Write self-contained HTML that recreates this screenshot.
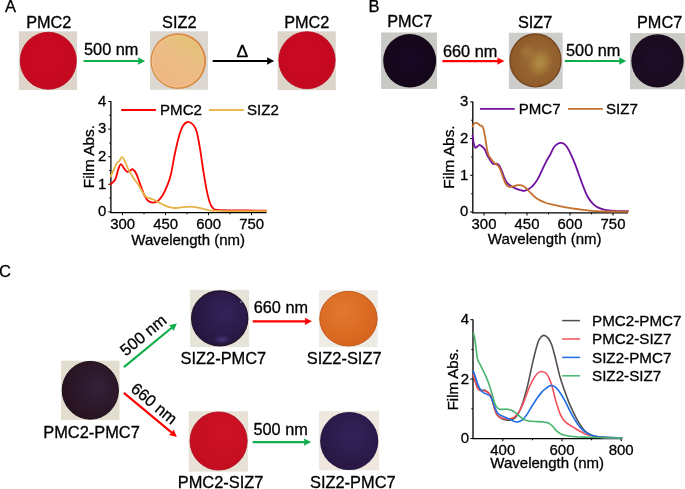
<!DOCTYPE html>
<html><head><meta charset="utf-8"><style>
html,body{margin:0;padding:0;background:#fff;}
body{width:685px;height:489px;overflow:hidden;}
svg{display:block;will-change:transform;}
text{font-family:"Liberation Sans",sans-serif;fill:#000;stroke:#000;stroke-width:0.3px;}
</style></head><body>
<svg width="685" height="489" viewBox="0 0 685 489">
<text x="5.00" y="11.70" font-size="16.50" text-anchor="start" >A</text>
<text x="48.80" y="27.60" font-size="16.30" text-anchor="middle" >PMC2</text>
<rect x="18.90" y="31.30" width="58.10" height="58.60" fill="#ddd5c9"/>
<defs><radialGradient id="pg1" cx="0.45" cy="0.45" r="0.6">
<stop offset="0" stop-color="#cc0a23"/><stop offset="1" stop-color="#c3081f"/></radialGradient></defs>
<ellipse cx="48.30" cy="60.75" rx="28.10" ry="28.50" fill="url(#pg1)" stroke="#b8061c" stroke-width="0.80"/>
<text x="111.20" y="55.20" font-size="16.30" text-anchor="middle" >500 nm</text>
<line x1="83.60" y1="61.00" x2="138.90" y2="61.00" stroke="#0fae4c" stroke-width="2.20"/>
<polygon points="145.20,61.00 137.90,57.35 138.50,61.00 137.90,64.65" fill="#0fae4c"/>
<text x="179.30" y="27.80" font-size="16.30" text-anchor="middle" >SIZ2</text>
<rect x="150.00" y="31.30" width="58.00" height="58.50" fill="#dcd8d1"/>
<ellipse cx="178.25" cy="61.10" rx="27.80" ry="27.90" fill="#d98a44"/>
<defs><linearGradient id="siz2g" x1="0.2" y1="0.9" x2="0.75" y2="0.05"><stop offset="0" stop-color="#eeb683"/><stop offset="0.55" stop-color="#ecbc86"/><stop offset="1" stop-color="#e2c276"/></linearGradient></defs>
<ellipse cx="177.9" cy="61.2" rx="26.2" ry="26.3" fill="#f2c894"/>
<ellipse cx="177.9" cy="61.3" rx="25.4" ry="25.5" fill="url(#siz2g)"/>
<text x="242.30" y="56.90" font-size="17.40" text-anchor="middle" >&#916;</text>
<line x1="212.70" y1="61.00" x2="267.90" y2="61.00" stroke="#000000" stroke-width="2.20"/>
<polygon points="274.20,61.00 266.90,57.35 267.50,61.00 266.90,64.65" fill="#000000"/>
<text x="306.80" y="27.80" font-size="16.30" text-anchor="middle" >PMC2</text>
<rect x="277.70" y="31.30" width="58.10" height="58.80" fill="#ddd5c9"/>
<defs><radialGradient id="pg3" cx="0.45" cy="0.45" r="0.6">
<stop offset="0" stop-color="#cc0a23"/><stop offset="1" stop-color="#c3081f"/></radialGradient></defs>
<ellipse cx="307.00" cy="60.20" rx="28.20" ry="28.50" fill="url(#pg3)" stroke="#b8061c" stroke-width="0.80"/>
<text x="368.60" y="11.70" font-size="16.50" text-anchor="start" >B</text>
<text x="409.80" y="27.30" font-size="16.30" text-anchor="middle" >PMC7</text>
<rect x="381.10" y="32.50" width="55.90" height="56.40" fill="#c8c8c4"/>
<defs><radialGradient id="pg4" cx="0.50" cy="0.50" r="0.6">
<stop offset="0" stop-color="#180826"/><stop offset="1" stop-color="#140616"/></radialGradient></defs>
<ellipse cx="409.70" cy="60.75" rx="26.50" ry="26.85" fill="url(#pg4)"/>
<text x="470.10" y="56.50" font-size="16.30" text-anchor="middle" >660 nm</text>
<line x1="442.40" y1="61.10" x2="498.20" y2="61.10" stroke="#ff0000" stroke-width="2.20"/>
<polygon points="504.50,61.10 497.20,57.45 497.80,61.10 497.20,64.75" fill="#ff0000"/>
<text x="535.10" y="27.80" font-size="16.30" text-anchor="middle" >SIZ7</text>
<rect x="508.90" y="32.70" width="53.80" height="56.30" fill="#cdcdcb"/>
<defs><radialGradient id="pg5" cx="0.55" cy="0.50" r="0.6">
<stop offset="0" stop-color="#9e6e36"/><stop offset="1" stop-color="#8c5828"/></radialGradient></defs>
<ellipse cx="535.50" cy="60.40" rx="25.50" ry="26.40" fill="url(#pg5)" stroke="#76461f" stroke-width="1.30"/>
<defs><radialGradient id="siz7h" cx="0.5" cy="0.5" r="0.5"><stop offset="0" stop-color="#b49448" stop-opacity="0.85"/><stop offset="1" stop-color="#b49448" stop-opacity="0"/></radialGradient></defs>
<ellipse cx="540" cy="63" rx="12" ry="15" fill="url(#siz7h)" transform="rotate(25 540 63)"/>
<ellipse cx="527" cy="52" rx="9" ry="9" fill="url(#siz7h)" opacity="0.5"/>
<text x="593.20" y="55.90" font-size="16.30" text-anchor="middle" >500 nm</text>
<line x1="564.80" y1="61.00" x2="620.00" y2="61.00" stroke="#0fae4c" stroke-width="2.20"/>
<polygon points="626.30,61.00 619.00,57.35 619.60,61.00 619.00,64.65" fill="#0fae4c"/>
<text x="659.60" y="27.80" font-size="16.30" text-anchor="middle" >PMC7</text>
<rect x="630.00" y="33.10" width="55.00" height="56.20" fill="#cbcbc6"/>
<defs><radialGradient id="pg6" cx="0.50" cy="0.50" r="0.6">
<stop offset="0" stop-color="#1e0e2a"/><stop offset="1" stop-color="#1a0a1c"/></radialGradient></defs>
<ellipse cx="657.50" cy="60.95" rx="26.20" ry="26.65" fill="url(#pg6)"/>
<path d="M110.90,101.20 L110.90,212.60 L266.60,212.60" fill="none" stroke="#000" stroke-width="1.30"/>
<line x1="122.50" y1="212.60" x2="122.50" y2="215.20" stroke="#000" stroke-width="1.04"/>
<line x1="165.50" y1="212.60" x2="165.50" y2="215.20" stroke="#000" stroke-width="1.04"/>
<line x1="208.50" y1="212.60" x2="208.50" y2="215.20" stroke="#000" stroke-width="1.04"/>
<line x1="251.50" y1="212.60" x2="251.50" y2="215.20" stroke="#000" stroke-width="1.04"/>
<line x1="144.00" y1="212.60" x2="144.00" y2="214.20" stroke="#000" stroke-width="1.04"/>
<line x1="187.00" y1="212.60" x2="187.00" y2="214.20" stroke="#000" stroke-width="1.04"/>
<line x1="230.00" y1="212.60" x2="230.00" y2="214.20" stroke="#000" stroke-width="1.04"/>
<line x1="110.90" y1="211.90" x2="108.30" y2="211.90" stroke="#000" stroke-width="1.04"/>
<line x1="110.90" y1="184.30" x2="108.30" y2="184.30" stroke="#000" stroke-width="1.04"/>
<line x1="110.90" y1="156.70" x2="108.30" y2="156.70" stroke="#000" stroke-width="1.04"/>
<line x1="110.90" y1="129.10" x2="108.30" y2="129.10" stroke="#000" stroke-width="1.04"/>
<line x1="110.90" y1="101.50" x2="108.30" y2="101.50" stroke="#000" stroke-width="1.04"/>
<line x1="110.90" y1="198.10" x2="109.30" y2="198.10" stroke="#000" stroke-width="1.04"/>
<line x1="110.90" y1="170.50" x2="109.30" y2="170.50" stroke="#000" stroke-width="1.04"/>
<line x1="110.90" y1="142.90" x2="109.30" y2="142.90" stroke="#000" stroke-width="1.04"/>
<line x1="110.90" y1="115.30" x2="109.30" y2="115.30" stroke="#000" stroke-width="1.04"/>
<text x="106.40" y="216.20" font-size="14.90" text-anchor="end" >0</text>
<text x="106.40" y="188.60" font-size="14.90" text-anchor="end" >1</text>
<text x="106.40" y="161.00" font-size="14.90" text-anchor="end" >2</text>
<text x="106.40" y="133.40" font-size="14.90" text-anchor="end" >3</text>
<text x="106.40" y="105.80" font-size="14.90" text-anchor="end" >4</text>
<text x="122.70" y="229.20" font-size="14.90" text-anchor="middle" >300</text>
<text x="165.70" y="229.20" font-size="14.90" text-anchor="middle" >450</text>
<text x="208.70" y="229.20" font-size="14.90" text-anchor="middle" >600</text>
<text x="251.70" y="229.20" font-size="14.90" text-anchor="middle" >750</text>
<text x="188.20" y="244.60" font-size="15.00" text-anchor="middle" >Wavelength (nm)</text>
<text x="94.20" y="156.60" font-size="15.40" text-anchor="middle" transform="rotate(-90 94.2 156.6)">Film Abs.</text>
<line x1="121.2" y1="110" x2="155.9" y2="110" stroke="#ff0000" stroke-width="1.9"/>
<text x="160.00" y="115.10" font-size="15.10" text-anchor="start" >PMC2</text>
<line x1="208.9" y1="110" x2="243.8" y2="110" stroke="#e8b84c" stroke-width="1.9"/>
<text x="247.00" y="115.10" font-size="15.10" text-anchor="start" >SIZ2</text>
<path d="M110.60,184.20 C111.00,183.87 112.15,183.18 113.00,182.20 C113.85,181.22 114.78,180.57 115.70,178.30 C116.62,176.03 117.62,170.95 118.50,168.60 C119.38,166.25 120.07,164.23 121.00,164.20 C121.93,164.17 123.07,167.13 124.10,168.40 C125.13,169.67 126.18,171.47 127.20,171.80 C128.22,172.13 129.27,170.80 130.20,170.40 C131.13,170.00 131.77,168.80 132.80,169.40 C133.83,170.00 135.17,171.50 136.40,174.00 C137.63,176.50 138.80,180.70 140.20,184.40 C141.60,188.10 143.40,193.38 144.80,196.20 C146.20,199.02 147.20,200.23 148.60,201.30 C150.00,202.37 151.67,202.65 153.20,202.60 C154.73,202.55 156.20,202.27 157.80,201.00 C159.40,199.73 161.13,197.80 162.80,195.00 C164.47,192.20 166.43,187.70 167.80,184.20 C169.17,180.70 169.82,179.12 171.00,174.00 C172.18,168.88 173.55,159.85 174.90,153.50 C176.25,147.15 177.72,140.57 179.10,135.90 C180.48,131.23 181.68,127.85 183.20,125.50 C184.72,123.15 186.50,121.88 188.20,121.80 C189.90,121.72 191.97,123.30 193.40,125.00 C194.83,126.70 195.70,128.07 196.80,132.00 C197.90,135.93 198.93,142.27 200.00,148.60 C201.07,154.93 202.12,163.20 203.20,170.00 C204.28,176.80 205.42,184.03 206.50,189.40 C207.58,194.77 208.63,199.07 209.70,202.20 C210.77,205.33 211.65,206.92 212.90,208.20 C214.15,209.48 213.52,209.53 217.20,209.90 C220.88,210.27 226.87,210.28 235.00,210.40 C243.13,210.52 260.83,210.57 266.00,210.60" fill="none" stroke="#ff0000" stroke-width="1.80" stroke-linejoin="round" stroke-linecap="round"/>
<path d="M110.60,176.50 C111.18,175.27 113.05,171.35 114.10,169.10 C115.15,166.85 116.08,164.27 116.90,163.00 C117.72,161.73 118.13,162.53 119.00,161.50 C119.87,160.47 121.12,156.80 122.10,156.80 C123.08,156.80 123.93,159.57 124.90,161.50 C125.87,163.43 126.88,166.33 127.90,168.40 C128.92,170.47 129.97,172.12 131.00,173.90 C132.03,175.68 132.95,177.43 134.10,179.10 C135.25,180.77 136.63,181.98 137.90,183.90 C139.17,185.82 140.43,188.52 141.70,190.60 C142.97,192.68 144.22,195.13 145.50,196.40 C146.78,197.67 147.98,197.63 149.40,198.20 C150.82,198.77 152.35,199.07 154.00,199.80 C155.65,200.53 157.52,201.67 159.30,202.60 C161.08,203.53 163.03,204.63 164.70,205.40 C166.37,206.17 167.77,206.77 169.30,207.20 C170.83,207.63 172.12,207.93 173.90,208.00 C175.68,208.07 177.25,207.83 180.00,207.60 C182.75,207.37 187.42,206.60 190.40,206.60 C193.38,206.60 195.22,207.10 197.90,207.60 C200.58,208.10 203.28,209.07 206.50,209.60 C209.72,210.13 207.28,210.53 217.20,210.80 C227.12,211.07 257.87,211.13 266.00,211.20" fill="none" stroke="#e6b446" stroke-width="1.80" stroke-linejoin="round" stroke-linecap="round"/>
<path d="M472.80,101.40 L472.80,212.80 L628.00,212.80" fill="none" stroke="#000" stroke-width="1.30"/>
<line x1="484.00" y1="212.80" x2="484.00" y2="215.40" stroke="#000" stroke-width="1.04"/>
<line x1="527.00" y1="212.80" x2="527.00" y2="215.40" stroke="#000" stroke-width="1.04"/>
<line x1="570.00" y1="212.80" x2="570.00" y2="215.40" stroke="#000" stroke-width="1.04"/>
<line x1="613.00" y1="212.80" x2="613.00" y2="215.40" stroke="#000" stroke-width="1.04"/>
<line x1="505.50" y1="212.80" x2="505.50" y2="214.40" stroke="#000" stroke-width="1.04"/>
<line x1="548.50" y1="212.80" x2="548.50" y2="214.40" stroke="#000" stroke-width="1.04"/>
<line x1="591.50" y1="212.80" x2="591.50" y2="214.40" stroke="#000" stroke-width="1.04"/>
<line x1="472.80" y1="212.00" x2="470.20" y2="212.00" stroke="#000" stroke-width="1.04"/>
<line x1="472.80" y1="175.30" x2="470.20" y2="175.30" stroke="#000" stroke-width="1.04"/>
<line x1="472.80" y1="138.60" x2="470.20" y2="138.60" stroke="#000" stroke-width="1.04"/>
<line x1="472.80" y1="101.90" x2="470.20" y2="101.90" stroke="#000" stroke-width="1.04"/>
<line x1="472.80" y1="193.65" x2="471.20" y2="193.65" stroke="#000" stroke-width="1.04"/>
<line x1="472.80" y1="156.95" x2="471.20" y2="156.95" stroke="#000" stroke-width="1.04"/>
<line x1="472.80" y1="120.25" x2="471.20" y2="120.25" stroke="#000" stroke-width="1.04"/>
<text x="468.20" y="216.30" font-size="14.90" text-anchor="end" >0</text>
<text x="468.20" y="179.60" font-size="14.90" text-anchor="end" >1</text>
<text x="468.20" y="142.90" font-size="14.90" text-anchor="end" >2</text>
<text x="468.20" y="106.20" font-size="14.90" text-anchor="end" >3</text>
<text x="484.00" y="229.30" font-size="14.90" text-anchor="middle" >300</text>
<text x="527.00" y="229.30" font-size="14.90" text-anchor="middle" >450</text>
<text x="570.00" y="229.30" font-size="14.90" text-anchor="middle" >600</text>
<text x="613.00" y="229.30" font-size="14.90" text-anchor="middle" >750</text>
<text x="544.70" y="244.40" font-size="15.00" text-anchor="middle" >Wavelength (nm)</text>
<text x="454.00" y="157.00" font-size="15.40" text-anchor="middle" transform="rotate(-90 454.0 157.0)">Film Abs.</text>
<line x1="479.9" y1="108.9" x2="514.7" y2="108.9" stroke="#7010a0" stroke-width="1.9"/>
<text x="518.70" y="114.20" font-size="15.10" text-anchor="start" >PMC7</text>
<line x1="568" y1="108.9" x2="602.8" y2="108.9" stroke="#c4702e" stroke-width="1.9"/>
<text x="606.00" y="114.20" font-size="15.10" text-anchor="start" >SIZ7</text>
<path d="M472.60,135.40 C472.77,136.63 473.17,140.78 473.60,142.80 C474.03,144.82 474.65,146.82 475.20,147.50 C475.75,148.18 476.18,147.33 476.90,146.90 C477.62,146.47 478.60,144.93 479.50,144.90 C480.40,144.87 481.43,145.97 482.30,146.70 C483.17,147.43 483.88,147.90 484.70,149.30 C485.52,150.70 486.38,153.45 487.20,155.10 C488.02,156.75 488.78,157.87 489.60,159.20 C490.42,160.53 491.28,162.28 492.10,163.10 C492.92,163.92 493.68,163.98 494.50,164.10 C495.32,164.22 496.18,163.53 497.00,163.80 C497.82,164.07 498.58,164.47 499.40,165.70 C500.22,166.93 501.08,169.22 501.90,171.20 C502.72,173.18 503.48,175.70 504.30,177.60 C505.12,179.50 505.70,181.18 506.80,182.60 C507.90,184.02 509.40,185.10 510.90,186.10 C512.40,187.10 514.20,187.93 515.80,188.60 C517.40,189.27 519.05,189.73 520.50,190.10 C521.95,190.47 523.13,190.97 524.50,190.80 C525.87,190.63 527.28,189.95 528.70,189.10 C530.12,188.25 531.48,187.40 533.00,185.70 C534.52,184.00 536.25,181.58 537.80,178.90 C539.35,176.22 540.82,172.65 542.30,169.60 C543.78,166.55 545.35,163.17 546.70,160.60 C548.05,158.03 549.17,156.47 550.40,154.20 C551.63,151.93 552.80,148.80 554.10,147.00 C555.40,145.20 557.02,144.10 558.20,143.40 C559.38,142.70 560.25,142.75 561.20,142.80 C562.15,142.85 563.03,143.13 563.90,143.70 C564.77,144.27 565.45,144.88 566.40,146.20 C567.35,147.52 568.20,148.73 569.60,151.60 C571.00,154.47 573.22,159.47 574.80,163.40 C576.38,167.33 577.65,171.23 579.10,175.20 C580.55,179.17 582.05,183.57 583.50,187.20 C584.95,190.83 586.22,194.22 587.80,197.00 C589.38,199.78 591.25,202.13 593.00,203.90 C594.75,205.67 596.30,206.62 598.30,207.60 C600.30,208.58 602.22,209.27 605.00,209.80 C607.78,210.33 611.17,210.57 615.00,210.80 C618.83,211.03 625.83,211.13 628.00,211.20" fill="none" stroke="#7010a0" stroke-width="1.80" stroke-linejoin="round" stroke-linecap="round"/>
<path d="M472.60,126.40 C472.85,125.93 473.50,124.18 474.10,123.60 C474.70,123.02 475.47,122.83 476.20,122.90 C476.93,122.97 477.85,123.57 478.50,124.00 C479.15,124.43 479.47,125.12 480.10,125.50 C480.73,125.88 481.67,125.47 482.30,126.30 C482.93,127.13 483.37,128.30 483.90,130.50 C484.43,132.70 484.95,136.22 485.50,139.50 C486.05,142.78 486.65,147.50 487.20,150.20 C487.75,152.90 488.12,154.20 488.80,155.70 C489.48,157.20 490.48,158.08 491.30,159.20 C492.12,160.32 492.88,161.55 493.70,162.40 C494.52,163.25 495.38,163.60 496.20,164.30 C497.02,165.00 497.78,165.42 498.60,166.60 C499.42,167.78 500.28,169.40 501.10,171.40 C501.92,173.40 502.68,176.45 503.50,178.60 C504.32,180.75 505.03,182.92 506.00,184.30 C506.97,185.68 508.08,186.55 509.30,186.90 C510.52,187.25 511.95,186.68 513.30,186.40 C514.65,186.12 516.20,185.40 517.40,185.20 C518.60,185.00 519.40,184.97 520.50,185.20 C521.60,185.43 522.88,185.93 524.00,186.60 C525.12,187.27 526.13,188.20 527.20,189.20 C528.27,190.20 529.13,191.30 530.40,192.60 C531.67,193.90 533.35,195.78 534.80,197.00 C536.25,198.22 537.22,198.90 539.10,199.90 C540.98,200.90 543.48,202.13 546.10,203.00 C548.72,203.87 551.90,204.45 554.80,205.10 C557.70,205.75 560.60,206.37 563.50,206.90 C566.40,207.43 569.30,207.83 572.20,208.30 C575.10,208.77 578.00,209.30 580.90,209.70 C583.80,210.10 586.42,210.43 589.60,210.70 C592.78,210.97 593.60,211.15 600.00,211.30 C606.40,211.45 623.33,211.55 628.00,211.60" fill="none" stroke="#c4702e" stroke-width="1.80" stroke-linejoin="round" stroke-linecap="round"/>
<text x="-0.90" y="276.60" font-size="16.50" text-anchor="start" >C</text>
<rect x="61.00" y="360.70" width="58.50" height="59.20" fill="#e2decf"/>
<defs><radialGradient id="pg7" cx="0.62" cy="0.45" r="0.6">
<stop offset="0" stop-color="#34203a"/><stop offset="1" stop-color="#27131f"/></radialGradient></defs>
<ellipse cx="90.30" cy="390.30" rx="28.10" ry="28.90" fill="url(#pg7)" stroke="#1e0e18" stroke-width="1.00"/>
<text x="91.50" y="437.90" font-size="16.40" text-anchor="middle" >PMC2-PMC7</text>
<g transform="translate(123.90,367.10) rotate(-39.442)">
<line x1="0" y1="0" x2="62.33" y2="0" stroke="#0fae4c" stroke-width="2.20"/>
<polygon points="68.63,0 61.33,-3.65 61.93,0 61.33,3.65" fill="#0fae4c"/>
</g>
<g transform="translate(123.90,392.90) rotate(39.699)">
<line x1="0" y1="0" x2="62.58" y2="0" stroke="#ff0000" stroke-width="2.20"/>
<polygon points="68.88,0 61.58,-3.65 62.18,0 61.58,3.65" fill="#ff0000"/>
</g>
<text x="0.00" y="0.00" font-size="16.30" text-anchor="middle" transform="translate(146.8,339.4) rotate(-39.5)">500 nm</text>
<text x="0.00" y="0.00" font-size="16.30" text-anchor="middle" transform="translate(150.6,407.8) rotate(39.5)">660 nm</text>
<rect x="190.00" y="289.80" width="59.10" height="57.30" fill="#e6e3d8"/>
<defs><radialGradient id="pg8" cx="0.60" cy="0.40" r="0.6">
<stop offset="0" stop-color="#33225a"/><stop offset="1" stop-color="#261640"/></radialGradient></defs>
<ellipse cx="219.70" cy="318.40" rx="28.00" ry="27.40" fill="url(#pg8)" stroke="#24142c" stroke-width="1.40"/>
<defs><radialGradient id="hlp" cx="0.5" cy="0.5" r="0.5"><stop offset="0" stop-color="#52428a" stop-opacity="0.7"/><stop offset="1" stop-color="#52428a" stop-opacity="0"/></radialGradient></defs>
<ellipse cx="222" cy="339.5" rx="9" ry="4.5" fill="url(#hlp)"/>
<circle cx="241" cy="302" r="0.8" fill="#d8d0e0" opacity="0.8"/>
<text x="223.40" y="363.80" font-size="16.40" text-anchor="middle" >SIZ2-PMC7</text>
<text x="280.90" y="312.70" font-size="16.30" text-anchor="middle" >660 nm</text>
<line x1="252.70" y1="321.30" x2="305.70" y2="321.30" stroke="#ff0000" stroke-width="2.20"/>
<polygon points="312.00,321.30 304.70,317.65 305.30,321.30 304.70,324.95" fill="#ff0000"/>
<rect x="319.10" y="290.10" width="58.60" height="57.00" fill="#eeebe5"/>
<defs><radialGradient id="pg9" cx="0.40" cy="0.35" r="0.6">
<stop offset="0" stop-color="#e27830"/><stop offset="1" stop-color="#d8661e"/></radialGradient></defs>
<ellipse cx="348.45" cy="318.70" rx="28.70" ry="27.30" fill="url(#pg9)" stroke="#c2561a" stroke-width="1.00"/>
<text x="344.20" y="364.00" font-size="16.40" text-anchor="middle" >SIZ2-SIZ7</text>
<rect x="188.70" y="411.20" width="59.40" height="60.50" fill="#e8e2d6"/>
<defs><radialGradient id="pg10" cx="0.60" cy="0.35" r="0.6">
<stop offset="0" stop-color="#cf1226"/><stop offset="1" stop-color="#c40e20"/></radialGradient></defs>
<ellipse cx="218.60" cy="441.00" rx="28.60" ry="29.10" fill="url(#pg10)" stroke="#b00a1c" stroke-width="0.80"/>
<text x="220.60" y="488.20" font-size="16.40" text-anchor="middle" >PMC2-SIZ7</text>
<text x="280.60" y="435.00" font-size="16.30" text-anchor="middle" >500 nm</text>
<line x1="252.70" y1="442.10" x2="304.90" y2="442.10" stroke="#0fae4c" stroke-width="2.20"/>
<polygon points="311.20,442.10 303.90,438.45 304.50,442.10 303.90,445.75" fill="#0fae4c"/>
<rect x="319.00" y="411.10" width="60.10" height="59.20" fill="#eee8de"/>
<defs><radialGradient id="pg11" cx="0.55" cy="0.40" r="0.6">
<stop offset="0" stop-color="#33225a"/><stop offset="1" stop-color="#281844"/></radialGradient></defs>
<ellipse cx="349.20" cy="441.00" rx="29.10" ry="29.10" fill="url(#pg11)"/>
<text x="352.80" y="487.60" font-size="16.40" text-anchor="middle" >SIZ2-PMC7</text>
<path d="M473.00,319.40 L473.00,438.70 L621.80,438.70" fill="none" stroke="#000" stroke-width="1.30"/>
<line x1="502.80" y1="438.70" x2="502.80" y2="441.30" stroke="#000" stroke-width="1.04"/>
<line x1="562.00" y1="438.70" x2="562.00" y2="441.30" stroke="#000" stroke-width="1.04"/>
<line x1="621.20" y1="438.70" x2="621.20" y2="441.30" stroke="#000" stroke-width="1.04"/>
<line x1="532.40" y1="438.70" x2="532.40" y2="440.30" stroke="#000" stroke-width="1.04"/>
<line x1="591.60" y1="438.70" x2="591.60" y2="440.30" stroke="#000" stroke-width="1.04"/>
<line x1="473.00" y1="438.50" x2="470.40" y2="438.50" stroke="#000" stroke-width="1.04"/>
<line x1="473.00" y1="379.10" x2="470.40" y2="379.10" stroke="#000" stroke-width="1.04"/>
<line x1="473.00" y1="319.70" x2="470.40" y2="319.70" stroke="#000" stroke-width="1.04"/>
<line x1="473.00" y1="408.80" x2="471.40" y2="408.80" stroke="#000" stroke-width="1.04"/>
<line x1="473.00" y1="349.40" x2="471.40" y2="349.40" stroke="#000" stroke-width="1.04"/>
<text x="469.00" y="442.90" font-size="15.00" text-anchor="end" >0</text>
<text x="469.00" y="383.50" font-size="15.00" text-anchor="end" >2</text>
<text x="469.00" y="324.10" font-size="15.00" text-anchor="end" >4</text>
<text x="502.80" y="455.20" font-size="15.00" text-anchor="middle" >400</text>
<text x="562.00" y="455.20" font-size="15.00" text-anchor="middle" >600</text>
<text x="621.20" y="455.20" font-size="15.00" text-anchor="middle" >800</text>
<text x="547.20" y="468.20" font-size="15.00" text-anchor="middle" >Wavelength (nm)</text>
<text x="458.20" y="379.50" font-size="15.00" text-anchor="middle" transform="rotate(-90 458.2 379.5)">Film Abs.</text>
<line x1="562.2" y1="320.60" x2="580.1" y2="320.60" stroke="#505050" stroke-width="1.5"/>
<text x="592.00" y="325.80" font-size="15.20" text-anchor="start" >PMC2-PMC7</text>
<line x1="562.2" y1="339.00" x2="580.1" y2="339.00" stroke="#f0505a" stroke-width="1.5"/>
<text x="592.00" y="344.20" font-size="15.20" text-anchor="start" >PMC2-SIZ7</text>
<line x1="562.2" y1="357.40" x2="580.1" y2="357.40" stroke="#1e6ee6" stroke-width="1.5"/>
<text x="592.00" y="362.60" font-size="15.20" text-anchor="start" >SIZ2-PMC7</text>
<line x1="562.2" y1="375.80" x2="580.1" y2="375.80" stroke="#46b46e" stroke-width="1.5"/>
<text x="592.00" y="381.00" font-size="15.20" text-anchor="start" >SIZ2-SIZ7</text>
<path d="M473.40,373.50 C473.75,374.83 474.75,379.02 475.50,381.50 C476.25,383.98 476.98,386.93 477.90,388.40 C478.82,389.87 479.87,390.00 481.00,390.30 C482.13,390.60 483.68,389.98 484.70,390.20 C485.72,390.42 486.18,390.83 487.10,391.60 C488.02,392.37 489.28,393.15 490.20,394.80 C491.12,396.45 491.78,398.93 492.60,401.50 C493.42,404.07 494.28,407.90 495.10,410.20 C495.92,412.50 496.48,413.97 497.50,415.30 C498.52,416.63 499.70,417.42 501.20,418.20 C502.70,418.98 504.90,419.70 506.50,420.00 C508.10,420.30 509.38,420.33 510.80,420.00 C512.22,419.67 513.70,419.17 515.00,418.00 C516.30,416.83 517.40,415.27 518.60,413.00 C519.80,410.73 521.13,407.37 522.20,404.40 C523.27,401.43 524.05,398.53 525.00,395.20 C525.95,391.87 526.95,388.35 527.90,384.40 C528.85,380.45 529.75,375.80 530.70,371.50 C531.65,367.20 532.63,362.65 533.60,358.60 C534.57,354.55 535.55,350.42 536.50,347.20 C537.45,343.98 538.12,341.27 539.30,339.30 C540.48,337.33 542.17,335.63 543.60,335.40 C545.03,335.17 546.58,336.42 547.90,337.90 C549.22,339.38 550.42,341.57 551.50,344.30 C552.58,347.03 553.45,350.72 554.40,354.30 C555.35,357.88 556.25,361.97 557.20,365.80 C558.15,369.63 559.07,373.70 560.10,377.30 C561.13,380.90 562.33,384.28 563.40,387.40 C564.47,390.52 565.48,393.25 566.50,396.00 C567.52,398.75 568.38,401.25 569.50,403.90 C570.62,406.55 571.97,409.33 573.20,411.90 C574.43,414.47 575.67,417.05 576.90,419.30 C578.13,421.55 579.37,423.57 580.60,425.40 C581.83,427.23 582.87,428.87 584.30,430.30 C585.73,431.73 587.37,432.98 589.20,434.00 C591.03,435.02 592.67,435.83 595.30,436.40 C597.93,436.97 600.58,437.13 605.00,437.40 C609.42,437.67 619.00,437.90 621.80,438.00" fill="none" stroke="#505050" stroke-width="1.60" stroke-linejoin="round" stroke-linecap="round"/>
<path d="M473.40,374.50 C473.75,375.78 474.75,379.80 475.50,382.20 C476.25,384.60 476.98,387.47 477.90,388.90 C478.82,390.33 479.98,390.48 481.00,390.80 C482.02,391.12 482.98,390.60 484.00,390.80 C485.02,391.00 486.07,391.28 487.10,392.00 C488.13,392.72 489.28,393.47 490.20,395.10 C491.12,396.73 491.78,399.25 492.60,401.80 C493.42,404.35 494.28,408.15 495.10,410.40 C495.92,412.65 496.48,414.07 497.50,415.30 C498.52,416.53 499.77,417.18 501.20,417.80 C502.63,418.42 504.67,418.80 506.10,419.00 C507.53,419.20 508.65,419.20 509.80,419.00 C510.95,418.80 511.88,418.45 513.00,417.80 C514.12,417.15 515.20,416.62 516.50,415.10 C517.80,413.58 519.37,411.47 520.80,408.70 C522.23,405.93 523.68,402.07 525.10,398.50 C526.52,394.93 527.88,390.60 529.30,387.30 C530.72,384.00 532.17,381.08 533.60,378.70 C535.03,376.32 536.47,374.20 537.90,373.00 C539.33,371.80 540.77,371.38 542.20,371.50 C543.63,371.62 545.32,372.52 546.50,373.70 C547.68,374.88 548.32,376.32 549.30,378.60 C550.28,380.88 551.48,384.30 552.40,387.40 C553.32,390.50 553.98,394.13 554.80,397.20 C555.62,400.27 556.38,402.93 557.30,405.80 C558.22,408.67 559.18,411.95 560.30,414.40 C561.42,416.85 562.67,418.87 564.00,420.50 C565.33,422.13 566.57,422.97 568.30,424.20 C570.03,425.43 572.35,426.68 574.40,427.90 C576.45,429.12 578.55,430.38 580.60,431.50 C582.65,432.62 584.45,433.78 586.70,434.60 C588.95,435.42 591.05,435.88 594.10,436.40 C597.15,436.92 600.38,437.43 605.00,437.70 C609.62,437.97 619.00,437.95 621.80,438.00" fill="none" stroke="#f0505a" stroke-width="1.60" stroke-linejoin="round" stroke-linecap="round"/>
<path d="M473.40,371.40 C473.75,372.38 474.75,375.10 475.50,377.30 C476.25,379.50 477.08,382.57 477.90,384.60 C478.72,386.63 479.48,388.17 480.40,389.50 C481.32,390.83 482.28,391.78 483.40,392.60 C484.52,393.42 485.97,393.78 487.10,394.40 C488.23,395.02 489.28,395.27 490.20,396.30 C491.12,397.33 491.78,398.67 492.60,400.60 C493.42,402.53 494.28,405.85 495.10,407.90 C495.92,409.95 496.58,411.67 497.50,412.90 C498.42,414.13 499.37,414.60 500.60,415.30 C501.83,416.00 503.47,416.48 504.90,417.10 C506.33,417.72 507.75,418.32 509.20,419.00 C510.65,419.68 512.15,420.72 513.60,421.20 C515.05,421.68 516.47,422.08 517.90,421.90 C519.33,421.72 520.77,421.23 522.20,420.10 C523.63,418.97 524.83,417.48 526.50,415.10 C528.17,412.72 530.35,408.73 532.20,405.80 C534.05,402.87 535.93,399.87 537.60,397.50 C539.27,395.13 540.97,392.98 542.20,391.60 C543.43,390.22 544.02,390.02 545.00,389.20 C545.98,388.38 547.08,387.32 548.10,386.70 C549.12,386.08 549.98,385.50 551.10,385.50 C552.22,385.50 553.57,385.88 554.80,386.70 C556.03,387.52 557.27,388.85 558.50,390.40 C559.73,391.95 560.97,393.95 562.20,396.00 C563.43,398.05 564.68,400.35 565.90,402.70 C567.12,405.05 568.28,407.75 569.50,410.10 C570.72,412.45 571.97,414.67 573.20,416.80 C574.43,418.93 575.67,421.05 576.90,422.90 C578.13,424.75 579.17,426.37 580.60,427.90 C582.03,429.43 583.67,430.88 585.50,432.10 C587.33,433.32 589.55,434.43 591.60,435.20 C593.65,435.97 595.57,436.33 597.80,436.70 C600.03,437.07 601.00,437.18 605.00,437.40 C609.00,437.62 619.00,437.90 621.80,438.00" fill="none" stroke="#1e6ee6" stroke-width="1.60" stroke-linejoin="round" stroke-linecap="round"/>
<path d="M473.50,333.20 C473.70,334.05 474.33,336.25 474.70,338.30 C475.07,340.35 475.37,342.93 475.70,345.50 C476.03,348.07 476.37,351.32 476.70,353.70 C477.03,356.08 477.18,358.10 477.70,359.80 C478.22,361.50 479.03,362.37 479.80,363.90 C480.57,365.43 481.45,367.30 482.30,369.00 C483.15,370.70 484.12,372.43 484.90,374.10 C485.68,375.77 486.22,377.03 487.00,379.00 C487.78,380.97 488.67,383.12 489.60,385.90 C490.53,388.68 491.68,392.63 492.60,395.70 C493.52,398.77 494.17,402.15 495.10,404.30 C496.03,406.45 496.98,407.75 498.20,408.60 C499.42,409.45 500.87,409.30 502.40,409.40 C503.93,409.50 505.63,408.93 507.40,409.20 C509.17,409.47 511.48,410.25 513.00,411.00 C514.52,411.75 515.20,412.65 516.50,413.70 C517.80,414.75 519.37,416.23 520.80,417.30 C522.23,418.37 523.43,419.43 525.10,420.10 C526.77,420.77 528.65,421.05 530.80,421.30 C532.95,421.55 535.63,421.43 538.00,421.60 C540.37,421.77 543.22,422.03 545.00,422.30 C546.78,422.57 547.47,422.58 548.70,423.20 C549.93,423.82 551.18,424.82 552.40,426.00 C553.62,427.18 554.57,428.97 556.00,430.30 C557.43,431.63 559.15,433.08 561.00,434.00 C562.85,434.92 564.65,435.35 567.10,435.80 C569.55,436.25 572.22,436.47 575.70,436.70 C579.18,436.93 583.12,437.03 588.00,437.20 C592.88,437.37 599.37,437.57 605.00,437.70 C610.63,437.83 619.00,437.95 621.80,438.00" fill="none" stroke="#46b46e" stroke-width="1.60" stroke-linejoin="round" stroke-linecap="round"/>
</svg>
</body></html>
